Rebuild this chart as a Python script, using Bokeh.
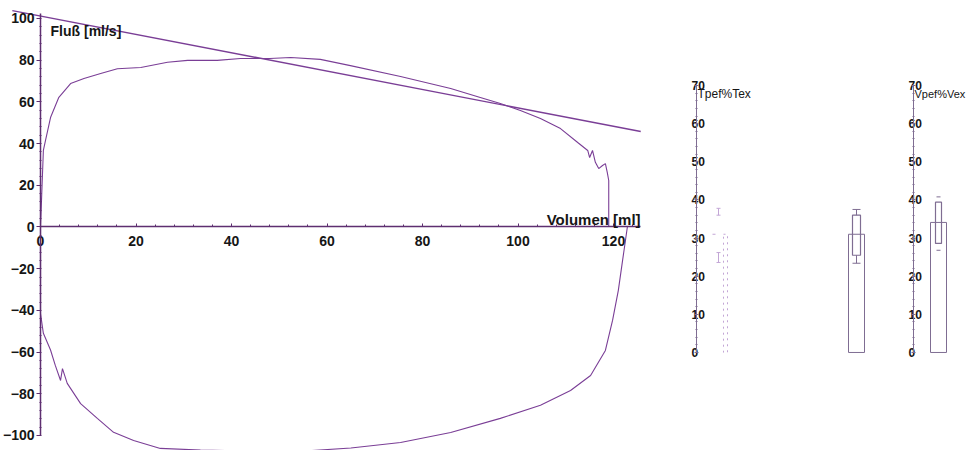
from bokeh.plotting import figure
from bokeh.layouts import row
from bokeh.models import Range1d, SingleIntervalTicker, LinearAxis, Label
from bokeh.embed import file_html
from bokeh.resources import INLINE
from bokeh.core.properties import value

# ---------------- data ----------------
# expiratory limb (volume ml, flow ml/s)
exp_volume = [0, 0.2, 0.6, 1.05, 2.1, 3.8, 6.3, 9.1, 12.6, 16.1, 21.0, 26.6, 30.8, 37.0,
              41.9, 48.0, 52.4, 58.6, 64.9, 75.4, 85.9, 92.1, 96.3, 100.5, 104.7, 108.9,
              112.5, 114.6, 115.0, 115.6, 116.2, 116.9, 117.7, 118.3, 118.7, 119.0, 119.0]
exp_flow = [0, 12.0, 36.7, 41.5, 52.5, 62.0, 68.8, 71.2, 73.6, 75.9, 76.5, 79.0, 79.9, 79.9,
            80.8, 80.8, 81.3, 80.4, 77.4, 72.2, 66.4, 62.1, 59.2, 55.9, 52.0, 47.2,
            40.5, 36.7, 33.3, 36.7, 31.0, 28.0, 29.5, 30.4, 26.1, 22.3, 0]
# inspiratory limb
insp_volume = [0, 0, 0, 0.6, 2.1, 3.1, 4.2, 4.6, 5.6, 8.4, 11.9, 15.3, 19.5, 25.1, 33.5,
               45.0, 55.0, 65.0, 75.4, 85.9, 96.3, 104.7, 111.0, 115.2, 118.3, 119.8,
               121.0, 121.9, 122.5, 122.9]
insp_flow = [0, -30.4, -41.5, -51.0, -59.0, -66.4, -73.6, -67.9, -75.0, -84.7, -91.8, -98.5,
             -102.4, -106.2, -107.0, -107.5, -107.5, -106.0, -103.4, -98.6, -91.8, -85.5,
             -78.4, -71.2, -59.2, -44.8, -30.5, -16.0, -6.5, 0]
# tangent line
tangent_volume = [-5.9, 125.7]
tangent_flow = [103.8, 45.8]

x_tick_step = 20
y_tick_step = 20

# box/bar indices
box_names = ["Tpef%Tex (Soll)", "Tpef%Tex", "Vpef%Vex"]
bar_value = [31.0, 31.0, 34.1]
box_low = [26.2, 25.5, 28.6]
box_high = [36.0, 36.0, 39.4]
whisker_low = [23.6, 23.4, 26.8]
whisker_high = [37.8, 37.5, 40.8]
small_ticks = [0, 10, 20, 30, 40, 50, 60, 70]
small_titles = ["Tpef%Tex", "Vpef%Vex"]

# ---------------- style / layout ----------------
FONT = "Liberation Sans"
CURVE = "#7a3e96"
AXIS = "#5e2f70"
TEXT = "#161616"
BAR = "#7f6d92"
FAINT = "#c3a6d6"

# ---------------- main flow-volume chart ----------------
main = figure(width=660, height=450, x_range=Range1d(-8.377, 129.84),
              y_range=Range1d(-107.2, 108.63), toolbar_location=None,
              output_backend="svg", min_border=0, outline_line_color=None,
              background_fill_color="white", border_fill_color="white")
main.grid.visible = False
main.xaxis.fixed_location = 0
main.yaxis.fixed_location = 0
main.xaxis.ticker = SingleIntervalTicker(interval=x_tick_step, num_minor_ticks=5)
main.yaxis.ticker = SingleIntervalTicker(interval=y_tick_step, num_minor_ticks=5)
main.xaxis.bounds = (0, 125.7)
main.yaxis.bounds = (-100, 102.5)
for ax in (main.xaxis, main.yaxis):
    ax.axis_line_color = AXIS
    ax.axis_line_width = 1.5
    ax.major_tick_line_color = AXIS
    ax.minor_tick_line_color = AXIS
    ax.major_label_text_font = FONT
    ax.major_label_text_font_size = "14px"
    ax.major_label_text_font_style = "bold"
    ax.major_label_text_color = TEXT
main.xaxis.major_tick_in = 3
main.xaxis.major_tick_out = 0
main.xaxis.minor_tick_in = 2
main.xaxis.minor_tick_out = 0
main.xaxis.major_label_standoff = 9
main.yaxis.major_tick_in = 0
main.yaxis.major_tick_out = 4
main.yaxis.minor_tick_in = 1
main.yaxis.minor_tick_out = 1
main.yaxis.major_label_standoff = 2

main.line(tangent_volume, tangent_flow, line_color=CURVE, line_width=1.4)
main.line(exp_volume, exp_flow, line_color=CURVE, line_width=1.1)
main.line(insp_volume, insp_flow, line_color=CURVE, line_width=1.1)

main.add_layout(Label(x=2.1, y=94.2, text="Fluß [ml/s]", text_font=FONT,
                      text_font_size="14px", text_font_style="bold",
                      text_color=TEXT, text_baseline="middle"))
main.add_layout(Label(x=106.0, y=3.6, text="Volumen [ml]", text_font=FONT,
                      text_font_size="15px", text_font_style="bold",
                      text_color=TEXT, text_baseline="middle"))

# ---------------- small box charts ----------------
small = figure(width=313, height=450, x_range=Range1d(660, 973),
               y_range=Range1d(-25.70, 92.29), toolbar_location=None,
               output_backend="svg", min_border=0, outline_line_color=None,
               x_axis_type=None, y_axis_type=None,
               background_fill_color="white", border_fill_color="white")
small.grid.visible = False

axis_pos = [696, 913]
title_size = ["12px", "11px"]
for ap, title, ts in zip(axis_pos, small_titles, title_size):
    ax = LinearAxis(fixed_location=ap, bounds=(0, 70),
                    ticker=SingleIntervalTicker(interval=10, num_minor_ticks=5))
    ax.axis_line_color = BAR
    ax.major_tick_line_color = BAR
    ax.minor_tick_line_color = BAR
    ax.major_tick_in = 2
    ax.major_tick_out = 2
    ax.minor_tick_in = 1
    ax.minor_tick_out = 1
    ax.major_label_text_color = None
    small.add_layout(ax, "left")
    small.text(x=[ap] * len(small_ticks), y=small_ticks, text=[str(t) for t in small_ticks],
               x_offset=-5, text_align="left", text_baseline="middle",
               text_font=value(FONT), text_font_size="12px", text_font_style="bold",
               text_color=TEXT)
    small.text(x=[ap], y=[67.9], text=[title], x_offset=1, text_align="left",
               text_baseline="middle", text_font=value(FONT), text_font_size=ts,
               text_color=TEXT)

# layout of each box: centre, outer width, inner width, whisker x
box_center = [725, 856, 938]
box_outer_w = [4, 16, 16]
box_inner_w = [0, 8, 6]
box_whisk_x = [718, 856, 938]

for i in range(len(box_names)):
    c = box_center[i]
    faint = (i == 0)
    col = FAINT if faint else BAR
    small.quad(left=[c - box_outer_w[i] / 2], right=[c + box_outer_w[i] / 2],
               bottom=[0], top=[bar_value[i]], fill_color=None, line_color=col,
               line_width=1, line_dash="dotted" if faint else "solid")
    wx = box_whisk_x[i]
    if box_inner_w[i] > 0:
        small.quad(left=[c - box_inner_w[i] / 2], right=[c + box_inner_w[i] / 2],
                   bottom=[box_low[i]], top=[box_high[i]], fill_color=None,
                   line_color=col, line_width=1.2)
    if i < 2:
        small.segment(x0=[wx, wx], y0=[box_high[i], whisker_low[i]],
                      x1=[wx, wx], y1=[whisker_high[i], box_low[i]],
                      line_color=col, line_width=1)
    cap_w = 8 if i == 1 else 4
    cap_y = [whisker_high[i], whisker_low[i]]
    if faint:
        cap_y = [whisker_high[i], box_high[i], whisker_low[i], box_low[i]]
    small.segment(x0=[wx - cap_w / 2] * len(cap_y), y0=cap_y,
                  x1=[wx + cap_w / 2] * len(cap_y), y1=cap_y,
                  line_color=col, line_width=1)
    if faint:
        small.segment(x0=[712], y0=[bar_value[i]], x1=[715], y1=[bar_value[i]],
                      line_color=col, line_width=1)

layout = row(main, small)
open("out.html", "w").write(file_html(layout, INLINE))
